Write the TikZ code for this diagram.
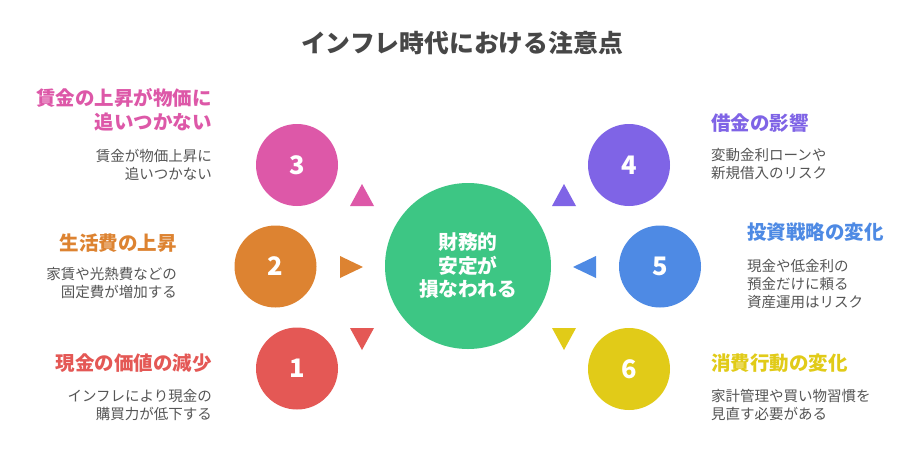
\documentclass[tikz,border=0pt]{standalone}
\usepackage{fontspec}
\setmainfont{Noto Sans CJK JP}
\definecolor{c1}{HTML}{E45855}
\definecolor{c2}{HTML}{DD8331}
\definecolor{c3}{HTML}{DD58A8}
\definecolor{c4}{HTML}{7F64E6}
\definecolor{c5}{HTML}{4E8AE4}
\definecolor{c6}{HTML}{E1CB18}
\definecolor{cgreen}{HTML}{3DC684}
\definecolor{titlegray}{HTML}{474747}
\definecolor{descgray}{HTML}{555555}
\begin{document}
\begin{tikzpicture}[x=1pt,y=-1pt,
  num/.style={circle,minimum size=82pt,inner sep=0pt,font=\fontsize{25.5}{25.5}\selectfont\bfseries,text=white},
  ttl/.style={inner sep=0pt,font=\fontsize{19.5}{24}\selectfont\bfseries},
  desc/.style={inner sep=0pt,font=\fontsize{14.5}{18}\selectfont,text=descgray}]
\useasboundingbox[fill=white] (0,0) rectangle (924,456);
\node[inner sep=0pt,font=\fontsize{24.8}{30}\selectfont\bfseries,text=titlegray] (title) at (462,43) {インフレ時代における注意点};
\node[circle,fill=cgreen,minimum size=166pt,inner sep=0pt,align=center,text=white,font=\fontsize{19.7}{23.5}\selectfont\bfseries] (center) at (468,266) {財務的\\安定が\\損なわれる};
\node[num,fill=c3] (n3) at (297,165) {3};
\node[num,fill=c2] (n2) at (275.5,266.5) {2};
\node[num,fill=c1] (n1) at (297,368.5) {1};
\node[num,fill=c4] (n4) at (629,165) {4};
\node[num,fill=c5] (n5) at (660,266.5) {5};
\node[num,fill=c6] (n6) at (629,369) {6};
\fill[c3] (350,206) -- (374,206) -- (362,184) -- cycle;
\fill[c2] (340,256) -- (340,278) -- (363,267) -- cycle;
\fill[c1] (350,328) -- (374,328) -- (362,350) -- cycle;
\fill[c4] (552,206) -- (576,206) -- (564,184) -- cycle;
\fill[c5] (596,256) -- (596,278) -- (573,267) -- cycle;
\fill[c6] (552,328) -- (576,328) -- (564,350) -- cycle;
\node[ttl,text=c3,anchor=east,align=right] (t3) at (212,110) {賃金の上昇が物価に\\追いつかない};
\node[desc,anchor=east,align=right] (d3) at (212,165) {賃金が物価上昇に\\追いつかない};
\node[ttl,text=c2,anchor=east] (t2) at (177,243) {生活費の上昇};
\node[desc,anchor=east,align=right] (d2) at (177,283) {家賃や光熱費などの\\固定費が増加する};
\node[ttl,text=c1,anchor=east] (t1) at (212,363) {現金の価値の減少};
\node[desc,anchor=east,align=right] (d1) at (212,405) {インフレにより現金の\\購買力が低下する};
\node[ttl,text=c4,anchor=west] (t4) at (711,123) {借金の影響};
\node[desc,anchor=west,align=left] (d4) at (711,164.5) {変動金利ローンや\\新規借入のリスク};
\node[ttl,text=c5,anchor=west] (t5) at (747,232) {投資戦略の変化};
\node[desc,anchor=west,align=left] (d5) at (747,284) {現金や低金利の\\預金だけに頼る\\資産運用はリスク};
\node[ttl,text=c6,anchor=west] (t6) at (711,363) {消費行動の変化};
\node[desc,anchor=west,align=left] (d6) at (711,405) {家計管理や買い物習慣を\\見直す必要がある};
\end{tikzpicture}
\end{document}
